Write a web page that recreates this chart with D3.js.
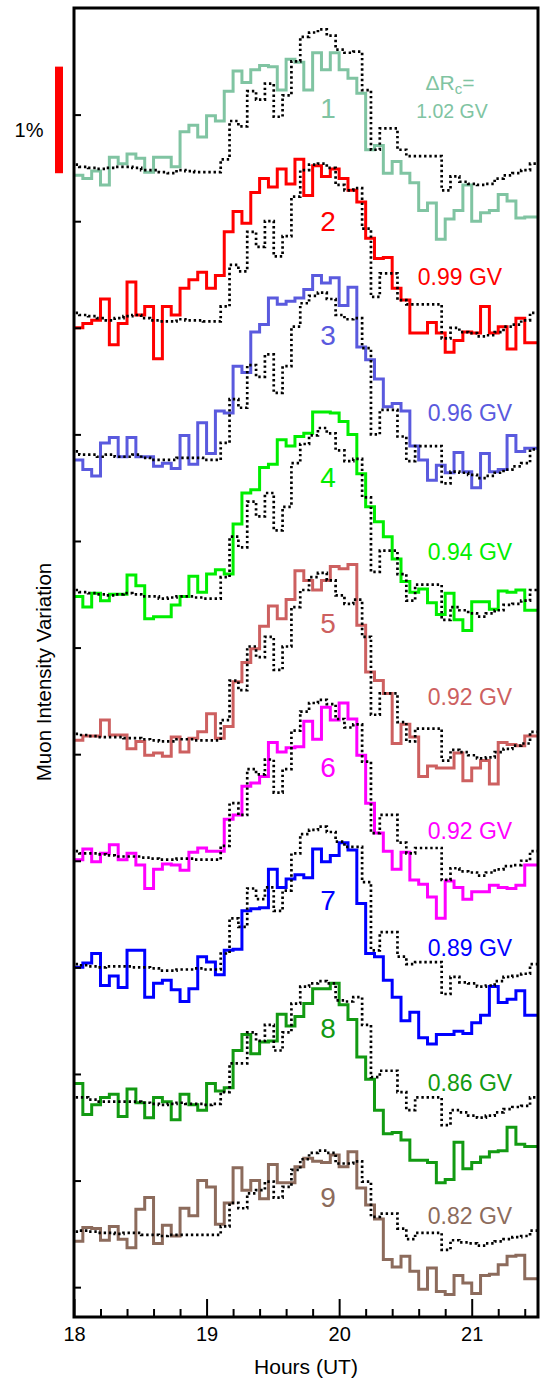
<!DOCTYPE html>
<html>
<head>
<meta charset="utf-8">
<script src="https://cdn.jsdelivr.net/npm/d3@7"></script>
<style>
body{margin:0;background:#fff;}
text{font-family:"Liberation Sans",Arial,Helvetica,sans-serif;}
</style>
</head>
<body>
<svg id="chart" width="540" height="1381"></svg>
<script>
// 4 minute bins from 18:00 UT, values are % variation above each panel's baseline
var binStart=18, binWidth=4/60;
var refShift=-1.6/60; // the dotted reference sits a little earlier than the muon bins

var panelNames=["1","2","3","4","5","6","7","8","9"];
var cutoffs=["1.02 GV","0.99 GV","0.96 GV","0.94 GV","0.92 GV","0.92 GV","0.89 GV","0.86 GV","0.82 GV"];
var colors=["#80c4a2","#ff0000","#5a5ade","#00ee00","#cd6060","#ff00ff","#0000ff","#129a12","#8c6b5c"];
var offsets=[10.48,9.09,7.80,6.51,5.15,4.04,3.00,1.77,0.51];

var muon1=[-0.05,-0.08,-0.01,-0.14,0.12,0.06,0.15,0.11,-0.02,0.12,0.12,0.03,0.36,0.42,0.31,0.51,0.46,0.74,0.93,0.82,0.94,0.98,0.97,0.75,1.04,1.01,0.75,1.10,0.94,1.10,0.94,0.86,0.72,0.19,0.23,-0.03,0.08,-0.03,-0.12,-0.38,-0.31,-0.65,-0.46,-0.38,-0.14,-0.48,-0.40,-0.38,-0.23,-0.29,-0.45,-0.44,-0.44];
var muon2=[-0.09,-0.05,-0.02,0.18,-0.25,-0.05,0.34,0.03,0.11,-0.38,0.11,0.03,0.28,0.36,0.43,0.28,0.40,0.81,1.00,0.89,1.18,1.31,1.23,1.40,1.26,1.49,1.15,1.43,1.33,1.40,1.31,1.20,1.09,0.75,0.56,0.57,0.28,0.17,-0.14,-0.14,-0.04,-0.14,-0.32,-0.21,-0.13,-0.14,0.11,-0.14,-0.08,-0.29,0.00,-0.23,-0.23];
var muon3=[-0.04,-0.13,-0.19,0.12,0.17,-0.01,0.17,-0.01,-0.01,-0.10,-0.07,-0.12,0.19,-0.08,0.31,0.02,0.42,0.40,0.84,0.78,1.16,1.23,1.48,1.42,1.45,1.48,1.56,1.69,1.62,1.67,1.41,1.58,1.02,0.90,0.72,0.46,0.49,0.42,0.09,-0.04,-0.23,-0.09,-0.16,0.03,-0.15,-0.30,0.02,-0.15,-0.13,0.19,0.04,0.07,0.07];
var muon4=[-0.03,-0.13,0.00,-0.07,-0.01,-0.01,0.17,0.07,-0.24,-0.22,-0.22,-0.11,-0.03,0.16,0.01,0.18,0.22,0.18,0.65,0.94,0.97,1.18,1.21,1.44,1.38,1.47,1.50,1.70,1.70,1.69,1.61,1.49,1.12,0.81,0.67,0.53,0.32,0.11,0.01,0.04,-0.09,-0.20,0.00,-0.25,-0.35,-0.08,-0.08,-0.15,0.02,0.01,0.03,-0.16,-0.16];
var muon5=[-0.02,0.02,0.02,0.17,0.03,0.03,-0.10,-0.03,-0.16,-0.14,-0.17,0.01,-0.13,0.00,0.06,0.23,0.00,0.11,0.53,0.71,0.84,1.05,1.24,1.12,1.30,1.57,1.48,1.39,1.48,1.61,1.59,1.63,1.06,0.62,0.54,0.42,-0.05,0.13,0.01,-0.36,-0.26,-0.28,-0.28,-0.14,-0.40,-0.28,-0.21,-0.43,-0.04,-0.06,-0.07,0.02,0.02];
var muon6=[-0.03,0.07,-0.05,0.03,0.11,-0.03,0.03,-0.08,-0.30,-0.12,-0.07,-0.08,-0.13,0.04,0.08,0.05,0.05,0.35,0.39,0.66,0.69,0.75,1.07,0.98,1.02,1.03,1.27,1.10,1.40,1.28,1.44,1.29,0.95,0.50,0.22,0.05,-0.12,0.04,-0.22,-0.26,-0.38,-0.58,-0.23,-0.29,-0.40,-0.33,-0.33,-0.27,-0.29,-0.30,-0.27,-0.08,-0.08];
var muon7=[0.00,0.04,0.13,-0.17,-0.08,-0.19,0.16,0.16,-0.28,-0.15,-0.12,-0.21,-0.32,-0.20,0.10,0.05,-0.07,0.16,0.17,0.53,0.55,0.56,0.92,0.75,0.83,0.87,0.84,1.11,0.99,1.05,1.17,1.10,0.60,0.13,0.10,-0.12,-0.28,-0.50,-0.42,-0.66,-0.72,-0.63,-0.63,-0.60,-0.62,-0.52,-0.45,-0.18,-0.33,-0.30,-0.22,-0.45,-0.45];
var muon8=[0.14,-0.15,-0.06,0.01,0.04,-0.17,0.09,-0.04,-0.18,0.01,-0.03,-0.20,0.04,-0.06,-0.11,0.14,0.07,0.10,0.45,0.60,0.42,0.53,0.54,0.79,0.68,0.77,0.89,1.03,1.03,1.08,0.88,0.74,0.39,0.18,-0.11,-0.33,-0.32,-0.39,-0.58,-0.58,-0.60,-0.79,-0.76,-0.41,-0.66,-0.60,-0.55,-0.50,-0.49,-0.27,-0.43,-0.45,-0.45];
var muon9=[-0.08,0.05,0.04,-0.07,0.06,-0.06,-0.14,0.22,0.33,-0.10,0.07,-0.03,0.23,0.16,0.49,0.43,0.08,0.28,0.61,0.40,0.49,0.32,0.64,0.47,0.47,0.62,0.70,0.67,0.66,0.73,0.62,0.76,0.42,0.26,0.13,-0.25,-0.32,-0.22,-0.36,-0.53,-0.33,-0.55,-0.58,-0.40,-0.47,-0.57,-0.40,-0.39,-0.30,-0.22,-0.21,-0.43,-0.43];

// dotted reference curves
var ref1=[0.05,0.03,0.02,0.01,0.02,0.03,0.03,0.02,0,0,-0.02,-0.03,0,-0.01,-0.02,-0.02,-0.02,0.10,0.46,0.41,0.74,0.66,0.81,0.50,0.70,1.02,1.25,1.29,1.32,1.26,1.13,1.10,1.11,0.75,0.19,0.39,0.39,0.19,0.13,0.13,0.13,0.13,-0.19,-0.06,-0.11,-0.13,-0.14,-0.13,-0.08,-0.05,-0.03,0,0.06];
var ref2=[0.05,0.03,0.02,0,-0.02,0,0.02,0.03,0,-0.02,-0.03,-0.03,-0.01,-0.02,-0.02,-0.03,-0.03,0.11,0.50,0.44,0.81,0.67,0.91,0.58,0.77,1.14,1.39,1.44,1.45,1.41,1.25,1.20,1.22,0.84,0.20,0.42,0.42,0.17,0.13,0.13,0.13,0.13,-0.19,-0.09,-0.13,-0.14,-0.17,-0.16,-0.13,-0.08,-0.06,-0.02,0.05];
var ref3=[0.04,0.01,0.01,-0.01,0.01,-0.01,-0.01,0.01,-0.02,-0.04,-0.04,-0.04,-0.02,-0.02,-0.02,-0.04,-0.04,0.12,0.53,0.45,0.85,0.74,0.95,0.59,0.84,1.21,1.43,1.50,1.53,1.47,1.32,1.28,1.29,1.01,0.20,0.43,0.43,0.18,-0.05,0.09,0.09,0.09,-0.26,-0.15,-0.16,-0.18,-0.21,-0.19,-0.16,-0.13,-0.10,-0.07,0.06];
var ref4=[0.03,0.01,0.00,-0.01,-0.02,-0.01,0.00,-0.01,-0.03,-0.03,-0.05,-0.04,-0.03,-0.03,-0.04,-0.05,-0.05,0.15,0.53,0.43,0.86,0.72,0.94,0.59,0.81,1.22,1.40,1.48,1.55,1.50,1.34,1.24,1.26,0.90,0.20,0.40,0.40,0.18,-0.07,0.08,0.08,0.08,-0.25,-0.13,-0.16,-0.19,-0.22,-0.19,-0.16,-0.11,-0.10,-0.07,0.03];
var ref5=[0.04,0.03,0.02,0.01,0.01,0.01,0.00,0.00,-0.01,-0.02,-0.03,-0.03,-0.01,-0.01,-0.02,-0.02,-0.02,0.17,0.54,0.45,0.86,0.76,0.95,0.64,0.86,1.23,1.39,1.51,1.55,1.48,1.34,1.26,1.30,0.95,0.22,0.42,0.42,0.15,-0.03,0.09,0.09,0.09,-0.21,-0.11,-0.13,-0.16,-0.19,-0.18,-0.13,-0.10,-0.07,-0.05,0.06];
var ref6=[0.05,0.03,0.03,0.02,0.01,0.00,0.00,0.00,-0.01,-0.02,-0.03,-0.03,-0.02,-0.02,-0.03,-0.03,-0.03,0.10,0.50,0.39,0.82,0.77,0.91,0.60,0.82,1.18,1.36,1.44,1.47,1.43,1.29,1.21,1.24,0.89,0.22,0.39,0.39,0.13,0.03,0.08,0.08,0.08,-0.22,-0.11,-0.14,-0.15,-0.18,-0.15,-0.12,-0.09,-0.08,-0.04,0.05];
var ref7=[0.03,0.02,0.01,0.00,0.01,0.01,0.01,0.00,0.00,-0.01,-0.03,-0.03,-0.02,-0.02,-0.01,-0.02,-0.02,0.13,0.46,0.38,0.74,0.64,0.75,0.53,0.72,1.07,1.25,1.29,1.32,1.27,1.18,1.13,1.13,0.80,0.16,0.33,0.33,0.10,0.03,0.05,0.05,0.05,-0.25,-0.09,-0.14,-0.15,-0.18,-0.17,-0.13,-0.09,-0.08,-0.06,0.03];
var ref8=[0.01,0.01,-0.01,-0.03,-0.03,-0.03,-0.03,-0.03,-0.04,-0.05,-0.06,-0.05,-0.04,-0.05,-0.05,-0.06,-0.05,0.06,0.33,0.33,0.62,0.54,0.69,0.45,0.62,0.89,1.05,1.08,1.10,1.08,0.92,0.91,0.95,0.69,0.20,0.26,0.26,0.06,-0.11,0.01,0.01,0.01,-0.25,-0.11,-0.13,-0.16,-0.18,-0.16,-0.13,-0.10,-0.08,-0.07,0.01];
var ref9=[0.01,0.02,0.01,0.00,0.00,-0.01,0.00,0.00,-0.02,-0.02,-0.03,-0.02,-0.02,-0.02,-0.02,-0.02,-0.02,0.06,0.28,0.23,0.37,0.40,0.48,0.33,0.43,0.59,0.69,0.75,0.77,0.75,0.65,0.65,0.67,0.48,0.15,0.18,0.18,0.04,-0.06,0.00,0.00,0.00,-0.16,-0.07,-0.09,-0.10,-0.12,-0.10,-0.08,-0.06,-0.04,-0.03,0.02];

var muonSeries=[muon1,muon2,muon3,muon4,muon5,muon6,muon7,muon8,muon9];
var refSeries=[ref1,ref2,ref3,ref4,ref5,ref6,ref7,ref8,ref9];

var xTicksMajor=[18,19,20,21];
var yTicks=[0,1,2,3,4,5,6,7,8,9,10,11];

// where the panel numbers and cutoff labels sit (pixels)
var numberPos=[[328,108],[328,221],[328,335],[328,477],[328,623],[328,767],[328,900],[328,1028],[328,1197]];
var cutoffPos=[[452,111],[460,277],[470,413],[470,552],[470,697],[470,831],[470,948],[470,1083],[470,1216]];

var svg=d3.select("#chart");
var plotL=74, plotR=538, plotT=8, plotB=1317;
var x=d3.scaleLinear().domain([18,21.5]).range([plotL,plotR]);
var y=d3.scaleLinear().domain([-0.28,12]).range([plotB,plotT]);

svg.append("clipPath").attr("id","plotclip").append("rect")
  .attr("x",plotL).attr("y",plotT).attr("width",plotR-plotL).attr("height",plotB-plotT);

function steps(vals,off,shift){
  var pts=vals.map(function(v,i){return [binStart+shift+i*binWidth,off+v];});
  pts.push([binStart+shift+vals.length*binWidth,off+vals[vals.length-1]]);
  return pts;
}
var line=d3.line().x(function(d){return x(d[0]);}).y(function(d){return y(d[1]);}).curve(d3.curveStepAfter);

var plot=svg.append("g").attr("clip-path","url(#plotclip)");
muonSeries.forEach(function(s,i){
  plot.append("path").attr("d",line(steps(s,offsets[i],0)))
    .attr("fill","none").attr("stroke",colors[i]).attr("stroke-width",3);
});
refSeries.forEach(function(s,i){
  plot.append("path").attr("d",line(steps(s,offsets[i],refShift)))
    .attr("fill","none").attr("stroke","#000").attr("stroke-width",2.7)
    .attr("stroke-dasharray","2.4,2.8");
});

// axes, ticks point inward
var minor=d3.range(18,21.5,0.2).filter(function(t){return Math.abs(t-Math.round(t))>0.01;});
svg.append("g").attr("transform","translate(0,"+plotB+")")
  .call(d3.axisBottom(x).tickValues(minor).tickSize(-8).tickFormat(""))
  .call(function(g){g.select(".domain").remove();g.selectAll("line").attr("stroke-width",2);});
svg.append("g").attr("transform","translate(0,"+plotB+")")
  .call(d3.axisBottom(x).tickValues(xTicksMajor).tickSize(-18).tickPadding(10).tickFormat(d3.format("d")))
  .call(function(g){
    g.select(".domain").remove();
    g.selectAll("line").attr("stroke-width",2);
    g.selectAll("text").attr("font-size",20).attr("fill","#000").attr("font-family","Liberation Sans, Arial, sans-serif");
  });
svg.append("g").attr("transform","translate("+plotL+",0)")
  .call(d3.axisLeft(y).tickValues(yTicks).tickSize(-7).tickFormat(""))
  .call(function(g){g.select(".domain").remove();g.selectAll("line").attr("stroke-width",2);});

svg.append("rect").attr("x",plotL).attr("y",plotT).attr("width",plotR-plotL).attr("height",plotB-plotT)
  .attr("fill","none").attr("stroke","#000").attr("stroke-width",3);

// 1% scale bar
svg.append("rect").attr("x",55).attr("width",8)
  .attr("y",y(11.45)).attr("height",y(10.45)-y(11.45)).attr("fill","#ff0000");
svg.append("text").attr("x",29).attr("y",137).attr("text-anchor","middle")
  .attr("font-size",20).text("1%");

// labels
panelNames.forEach(function(n,i){
  svg.append("text").attr("x",numberPos[i][0]).attr("y",numberPos[i][1]+10)
    .attr("text-anchor","middle").attr("font-size",28).attr("fill",colors[i]).text(n);
});
cutoffs.forEach(function(c,i){
  svg.append("text").attr("x",cutoffPos[i][0]).attr("y",cutoffPos[i][1]+(i==0?7:8))
    .attr("text-anchor","middle").attr("font-size",i==0?19.5:23).attr("fill",colors[i]).text(c);
});
var dr=svg.append("text").attr("x",450).attr("y",90).attr("text-anchor","middle")
  .attr("font-size",21).attr("fill",colors[0]);
dr.append("tspan").text("\u0394R");
dr.append("tspan").attr("font-size",15).attr("dy",4).text("c");
dr.append("tspan").attr("dy",-4).text("=");

svg.append("text").attr("x",(plotL+plotR)/2).attr("y",1374).attr("text-anchor","middle")
  .attr("font-size",21).text("Hours (UT)");
svg.append("text").attr("transform","translate(51,672) rotate(-90)").attr("text-anchor","middle")
  .attr("font-size",20.5).text("Muon Intensity Variation");
</script>
</body>
</html>
